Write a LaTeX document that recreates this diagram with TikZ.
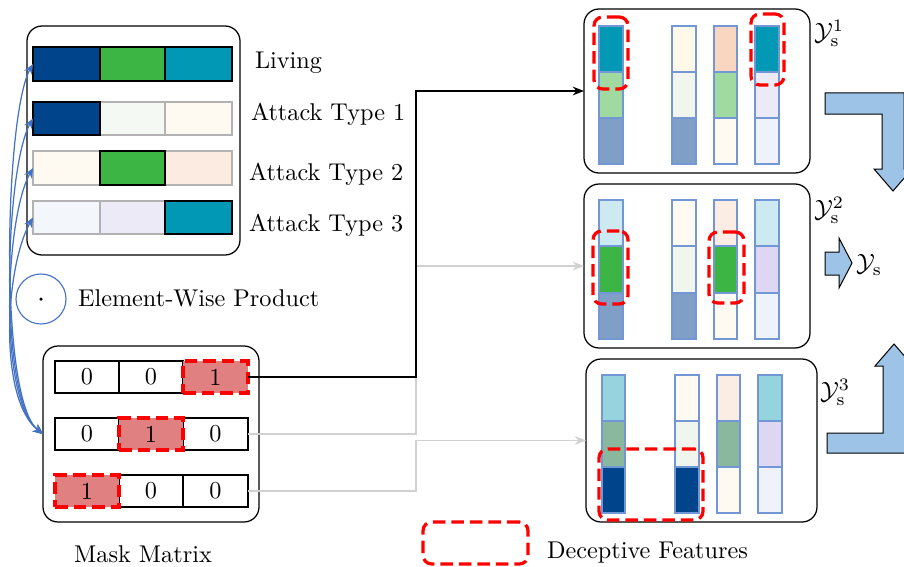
\documentclass[tikz,border=0pt]{standalone}
\usetikzlibrary{arrows.meta}
\definecolor{dblue}{HTML}{00458B}
\definecolor{cgreen}{HTML}{3DB545}
\definecolor{cteal}{HTML}{0098B5}
\definecolor{lgreenW}{HTML}{F4F9F3}
\definecolor{creamW}{HTML}{FEF9F1}
\definecolor{peachW}{HTML}{FBEBE0}
\definecolor{lblueW}{HTML}{F3F7FC}
\definecolor{lavW}{HTML}{EDEAF8}
\definecolor{steel}{HTML}{7F9FC6}
\definecolor{lgreen2}{HTML}{A0DAA0}
\definecolor{peach2}{HTML}{F8D6BF}
\definecolor{cream2}{HTML}{FFF9EA}
\definecolor{lcyan}{HTML}{CDE9F1}
\definecolor{lav2}{HTML}{DED7F3}
\definecolor{lblue2}{HTML}{EEF2FA}
\definecolor{lteal}{HTML}{95D4DF}
\definecolor{sage}{HTML}{8AB89F}
\definecolor{lgreen3}{HTML}{F0F6EE}
\definecolor{peach3}{HTML}{FCEDE4}
\definecolor{cream3}{HTML}{FFFBF2}
\definecolor{barblue}{HTML}{7396D4}
\definecolor{arrblue}{HTML}{4472C4}
\definecolor{blockfill}{HTML}{9DC3E6}
\definecolor{maskred}{HTML}{E08080}
\newcommand\cellnode[7]{\node[#6, minimum width={0.4pt*(#4-#2)}, minimum height={0.4pt*(#5-#3)}] (#1) at ({(#2+#4)/2},{(#3+#5)/2}) {#7};}
\newcommand\colbar[9]{%
  \cellnode{#1a}{#2}{#4}{#3}{#5}{barcell,fill=#7}{}%
  \cellnode{#1b}{#2}{#5}{#3}{#6}{barcell,fill=#8}{}%
  \cellnode{#1c}{#2}{#6}{#3}{#6+#5-#4}{barcell,fill=#9}{}}
\begin{document}
\begin{tikzpicture}[x=0.4pt,y=-0.4pt,
  every node/.style={inner sep=0pt, outer sep=0pt, font=\fontsize{9.7}{12}\selectfont},
  panel/.style={draw=black, line width=0.5pt, rounded corners=6pt},
  darkcell/.style={draw=black, line width=0.5pt},
  lightcell/.style={draw=black!30, line width=0.5pt},
  maskcell/.style={draw=black, line width=0.5pt},
  hicell/.style={fill=maskred, draw=red, line width=1.3pt, dash pattern=on 5pt off 2.4pt},
  barcell/.style={draw=barblue, line width=0.45pt},
  decep/.style={draw=red, line width=1.3pt, dash pattern=on 5pt off 2.4pt, rounded corners=3.5pt},
  bluearr/.style={draw=arrblue, line width=0.5pt, {Stealth[length=4pt,width=3.5pt]}-{Stealth[length=4pt,width=3.5pt]}},
  blackarr/.style={draw=black, line width=0.55pt, -{Stealth[length=4.5pt,width=3.5pt]}},
  grayarr/.style={draw=black!18, line width=0.55pt, -{Stealth[length=4.5pt,width=3.5pt]}},
  block/.style={fill=blockfill, draw=black, line width=0.4pt},
  lab/.style={anchor=west}]
\useasboundingbox (0,0) rectangle (904,566);

% ---- top-left panel ----
\cellnode{TL}{27}{26}{240}{255}{panel}{}
\cellnode{r0}{33}{47}{232}{81}{}{}
\cellnode{r1}{33}{102}{232}{135}{}{}
\cellnode{r2}{33}{151}{232}{185}{}{}
\cellnode{r3}{33}{201}{232}{234}{}{}
\cellnode{r0a}{33}{47}{100}{81}{darkcell,fill=dblue}{}
\cellnode{r0b}{100}{47}{165}{81}{darkcell,fill=cgreen}{}
\cellnode{r0c}{165}{47}{232}{81}{darkcell,fill=cteal}{}
\cellnode{r1b}{100}{102}{165}{135}{lightcell,fill=lgreenW}{}
\cellnode{r1c}{165}{102}{232}{135}{lightcell,fill=creamW}{}
\cellnode{r1a}{33}{102}{100}{135}{darkcell,fill=dblue}{}
\cellnode{r2a}{33}{151}{100}{185}{lightcell,fill=creamW}{}
\cellnode{r2c}{165}{151}{232}{185}{lightcell,fill=peachW}{}
\cellnode{r2b}{100}{151}{165}{185}{darkcell,fill=cgreen}{}
\cellnode{r3a}{33}{201}{100}{234}{lightcell,fill=lblueW}{}
\cellnode{r3b}{100}{201}{165}{234}{lightcell,fill=lavW}{}
\cellnode{r3c}{165}{201}{232}{234}{darkcell,fill=cteal}{}
\node[lab] (l0) at (255,63) {Living};
\node[lab] (l1) at (251,114) {Attack Type 1};
\node[lab] (l2) at (249,174) {Attack Type 2};
\node[lab] (l3) at (249,225) {Attack Type 3};

% ---- element-wise product ----
\node[circle, draw=arrblue, line width=0.45pt, minimum size=20pt] (ew) at (41,299) {};
\fill (ew.center) circle (0.7pt);
\node[lab] (ewl) at (78,298) {Element-Wise Product};

% ---- mask matrix ----
\cellnode{M}{43}{346}{259}{522}{panel}{}
\cellnode{m1}{55}{361}{248}{393}{}{}
\cellnode{m2}{55}{418}{248}{450}{}{}
\cellnode{m3}{55}{475}{248}{507}{}{}
\cellnode{m1a}{55}{361}{119}{393}{maskcell}{0}
\cellnode{m1b}{119}{361}{183}{393}{maskcell}{0}
\cellnode{m1c}{183}{361}{248}{393}{hicell}{1}
\cellnode{m2a}{55}{418}{119}{450}{maskcell}{0}
\cellnode{m2c}{183}{418}{248}{450}{maskcell}{0}
\cellnode{m2b}{119}{418}{183}{450}{hicell}{1}
\cellnode{m3b}{119}{475}{183}{507}{maskcell}{0}
\cellnode{m3c}{183}{475}{248}{507}{maskcell}{0}
\cellnode{m3a}{55}{475}{119}{507}{hicell}{1}
\node (mm) at (143,554) {Mask Matrix};

% ---- blue curved arrows ----
\foreach \r in {r0,r1,r2,r3}{
  \draw[bluearr] (M.west) .. controls +(-45,-35) and +(-28,50) .. (\r.west);
}

% ---- right panels ----
\cellnode{p1}{584}{9}{810}{173}{panel}{}
\cellnode{p2}{584}{184}{810}{348}{panel}{}
\cellnode{p3}{586}{359}{817}{522}{panel}{}

\colbar{pAa}{599}{623}{26}{72}{118}{cteal}{lgreen2}{steel}
\colbar{pAb}{672}{696}{26}{72}{118}{cream2}{lgreen3}{steel}
\colbar{pAc}{714}{737}{26}{72}{118}{peach2}{lgreen2}{creamW}
\colbar{pAd}{755}{779}{26}{72}{118}{cteal}{lavW}{lblue2}

\colbar{pBa}{599}{623}{200}{246}{293}{lcyan}{cgreen}{steel}
\colbar{pBb}{672}{696}{200}{246}{293}{cream3}{lgreen3}{steel}
\colbar{pBc}{714}{737}{200}{246}{293}{peach3}{cgreen}{creamW}
\colbar{pBd}{755}{779}{200}{246}{293}{lcyan}{lav2}{lblue2}

\colbar{pCa}{602}{625}{375}{421}{467}{lteal}{sage}{dblue}
\colbar{pCb}{675}{699}{375}{421}{467}{cream3}{lgreen3}{dblue}
\colbar{pCc}{717}{740}{375}{421}{467}{peach3}{sage}{creamW}
\colbar{pCd}{758}{782}{375}{421}{467}{lteal}{lav2}{lblue2}

\cellnode{dA1}{594}{17}{628}{89}{decep}{}
\cellnode{dA2}{751}{14}{784}{85}{decep}{}
\cellnode{dB1}{593}{231}{628}{304}{decep}{}
\cellnode{dB2}{709}{232}{744}{303}{decep}{}
\cellnode{dC1}{599}{449}{703}{520}{decep}{}

\node (y1) at (829,33) {$\mathcal{Y}_{\mathrm{s}}^{1}$};
\node (y2) at (829,210) {$\mathcal{Y}_{\mathrm{s}}^{2}$};
\node (y3) at (835,392) {$\mathcal{Y}_{\mathrm{s}}^{3}$};
\node (ys) at (869,265) {$\mathcal{Y}_{\mathrm{s}}$};

% ---- connectors from mask to panels ----
\coordinate (jx) at (416,0);
\draw[grayarr] (m3.east) -- (m3.east -| jx) |- (p3.west);
\draw[grayarr] (m2.east) -- (m2.east -| jx) |- (p2.west);
\draw[blackarr] (m1.east) -- (m1.east -| jx) |- (p1.west);

% ---- block arrows ----
\draw[block] (825,93) -- (904,93) -- (904,169) -- (912,169) -- (893,191) -- (874,169) -- (882,169) -- (882,114) -- (825,114) -- cycle;
\draw[block] (827,453) -- (905,453) -- (905,366) -- (913,366) -- (894,344) -- (875,366) -- (883,366) -- (883,433) -- (827,433) -- cycle;
\draw[block] (825,252) -- (839,252) -- (839,238) -- (852,263) -- (839,288) -- (839,275) -- (825,275) -- cycle;

% ---- legend ----
\cellnode{lg}{423}{522}{528}{564}{decep}{}
\node[lab] (lgt) at (547,553) {Deceptive Features};
\end{tikzpicture}
\end{document}
